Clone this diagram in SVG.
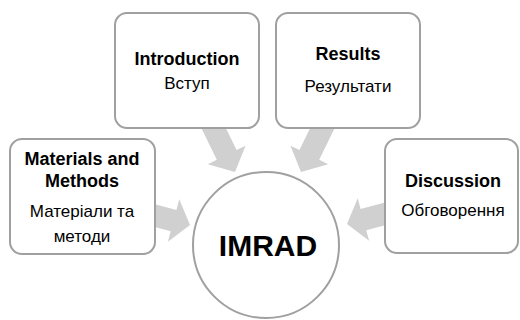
<svg xmlns="http://www.w3.org/2000/svg" width="520" height="320" viewBox="0 0 520 320">
<style>
.box{fill:#ffffff;stroke:#a0a0a0;stroke-width:2}
.arrow{fill:#d0d0d0;stroke:none}
.t{font-family:"Liberation Sans",Arial,sans-serif;font-size:17px;fill:#000;text-anchor:middle}
.b{font-weight:bold;font-size:18px}
</style>
<defs>
<polygon id="arr55" points="0,0 -19,-21 -19,-11 -56,-11 -56,11 -19,11 -19,21"/>
<polygon id="arr44" points="0,0 -17,-22 -17,-11 -46,-11 -46,11 -17,11 -17,22"/>
</defs>
<g id="connectors">
<use href="#arr55" class="arrow" transform="translate(235,172) rotate(64)"/>
<use href="#arr55" class="arrow" transform="translate(301,172) rotate(116)"/>
<use href="#arr44" class="arrow" transform="translate(190,225) rotate(15)"/>
<use href="#arr44" class="arrow" transform="translate(347,224) rotate(165)"/>
</g>
<g id="introduction">
<rect class="box" x="115" y="13" width="144" height="115" rx="12"/>
<text class="t b" x="187" y="65">Introduction</text>
<text class="t" x="187" y="89">Вступ</text>
</g>
<g id="results">
<rect class="box" x="276" y="13" width="144" height="115" rx="12"/>
<text class="t b" x="348" y="60">Results</text>
<text class="t" x="348" y="92">Результати</text>
</g>
<g id="materials">
<rect class="box" x="10" y="139" width="145" height="115" rx="12"/>
<text class="t b" x="82" y="165">Materials and</text>
<text class="t b" x="82" y="187">Methods</text>
<text class="t" x="82" y="217">Матеріали та</text>
<text class="t" x="82" y="242">методи</text>
</g>
<g id="discussion">
<rect class="box" x="385" y="139" width="133" height="114" rx="12"/>
<text class="t b" x="453" y="187">Discussion</text>
<text class="t" x="453" y="216">Обговорення</text>
</g>
<g id="imrad">
<circle cx="266" cy="245" r="73" fill="#ffffff" stroke="#a0a0a0" stroke-width="2"/>
<text x="268" y="256" font-family="Liberation Sans, Arial, sans-serif" font-size="30" font-weight="bold" text-anchor="middle" fill="#000">IMRAD</text>
</g>
</svg>
